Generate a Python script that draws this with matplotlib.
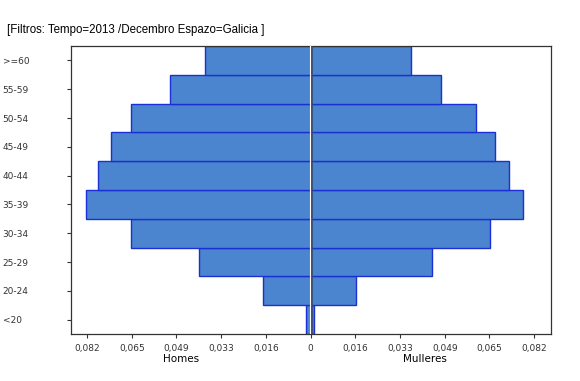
import numpy as np
import matplotlib
matplotlib.use("Agg")
import matplotlib.pyplot as plt

# population share by age group, Galicia Dec 2013
age_groups = ["<20", "20-24", "25-29", "30-34", "35-39", "40-44", "45-49", "50-54", "55-59", ">=60"]
homes = [0.0017, 0.0175, 0.0409, 0.0658, 0.0822, 0.0779, 0.0731, 0.0658, 0.0515, 0.0387]
mulleres = [0.0012, 0.0166, 0.0444, 0.0656, 0.0777, 0.0726, 0.0675, 0.0605, 0.0478, 0.0367]

tick_vals = [-0.0818, -0.06544, -0.04908, -0.03272, -0.01636, 0, 0.01636, 0.03272, 0.04908, 0.06544, 0.0818]
tick_labels = ["0,082", "0,065", "0,049", "0,033", "0,016", "0", "0,016", "0,033", "0,049", "0,065", "0,082"]

face = "#4c85cf"
edge = "#1a30d4"

fig = plt.figure(figsize=(5.8, 3.81), dpi=100)
ax = fig.add_axes([70.7 / 580, 1 - 334 / 381, (550.5 - 70.7) / 580, (334 - 46) / 381])

y = np.arange(len(age_groups))
ax.barh(y, -np.array(homes), height=1.0, color=face, edgecolor=edge, linewidth=1.0)
ax.barh(y, mulleres, height=1.0, color=face, edgecolor=edge, linewidth=1.0)

# centre line: dark with a light core
ax.axvline(0, color="#3a4a60", linewidth=1.8, zorder=3)
ax.axvline(-0.00025, color="white", linewidth=0.8, zorder=4)

ax.set_xlim(-0.0878, 0.0878)
ax.set_ylim(-0.5, len(age_groups) - 0.5)

ax.set_xticks(tick_vals)
ax.set_xticklabels(tick_labels, fontsize=6.5, color="#333333")
ax.set_yticks(y)
ax.set_yticklabels(age_groups, fontsize=6.5, color="#333333", ha="left")
ax.tick_params(axis="y", length=3, width=0.8, pad=46, colors="#333333")
ax.tick_params(axis="x", length=3, width=0.8, pad=4, colors="#333333")

for s in ax.spines.values():
    s.set_color("#333333")
    s.set_linewidth(0.9)

fig.text(7 / 580, 1 - 30 / 381, "[Filtros: Tempo=2013 /Decembro Espazo=Galicia ]",
         fontsize=8.3, family="Liberation Sans", va="center", ha="left", color="black")
fig.text(181 / 580, 1 - 359 / 381, "Homes", fontsize=7.5, ha="center", va="center")
fig.text(425 / 580, 1 - 359 / 381, "Mulleres", fontsize=7.5, ha="center", va="center")

fig.savefig("out.png", dpi=100)
